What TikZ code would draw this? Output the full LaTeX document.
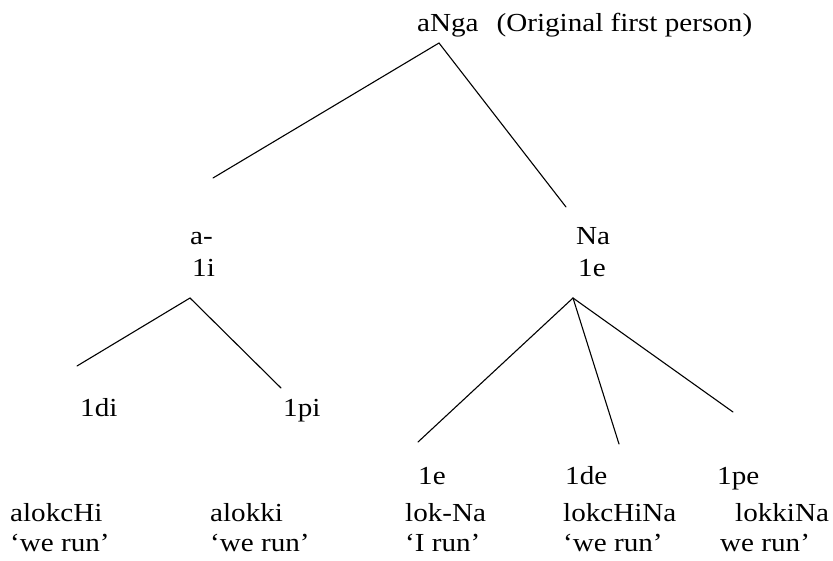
\documentclass[tikz,border=0pt]{standalone}
\usepackage{fontspec}
\setmainfont{Liberation Serif}[FakeStretch=1.12]
\begin{document}
\begin{tikzpicture}[x=1pt,y=-1pt,
  lbl/.style={anchor=base west,inner sep=0pt,font=\fontsize{26}{30}\selectfont},
  branch/.style={line width=1.1pt,line cap=round}]
\useasboundingbox (0,0) rectangle (833,561);

% root
\node[lbl] (root) at (417,32) {aNga\hspace{18pt}(Original first person)};
\coordinate (rtop) at (439,43);
\coordinate (rl) at (213,178);
\coordinate (rr) at (566,207);
\draw[branch] (rl) -- (rtop) -- (rr);

% second level
\node[lbl] (ahy) at (190,245) {a-};
\node[lbl] (oi)  at (192,277) {1i};
\node[lbl] (na)  at (576,245) {Na};
\node[lbl] (oe)  at (578,277) {1e};

% left subtree
\coordinate (ltop) at (190,298);
\coordinate (ll) at (77,366);
\coordinate (lr) at (281,388);
\draw[branch] (ll) -- (ltop) -- (lr);
\node[lbl] (odi) at (80,416) {1di};
\node[lbl] (opi) at (283,416) {1pi};

% right subtree
\coordinate (etop) at (573,298);
\coordinate (el) at (418,442);
\coordinate (em) at (619,444);
\coordinate (er) at (733,412);
\draw[branch] (el) -- (etop) -- (er);
\draw[branch] (etop) -- (em);

% leaves
\node[lbl] (l1e)  at (418,484) {1e};
\node[lbl] (l1de) at (565,484) {1de};
\node[lbl] (l1pe) at (717,484) {1pe};

\node[lbl] (w1) at (10,521)  {alokcHi};
\node[lbl] (w2) at (210,521) {alokki};
\node[lbl] (w3) at (405,521) {lok-Na};
\node[lbl] (w4) at (563,521) {lokcHiNa};
\node[lbl] (w5) at (735,521) {lokkiNa};

\node[lbl] (g1) at (10,551)  {‘we run’};
\node[lbl] (g2) at (210,551) {‘we run’};
\node[lbl] (g3) at (405,551) {‘I run’};
\node[lbl] (g4) at (563,551) {‘we run’};
\node[lbl] (g5) at (720,551) {we run’};
\end{tikzpicture}
\end{document}
